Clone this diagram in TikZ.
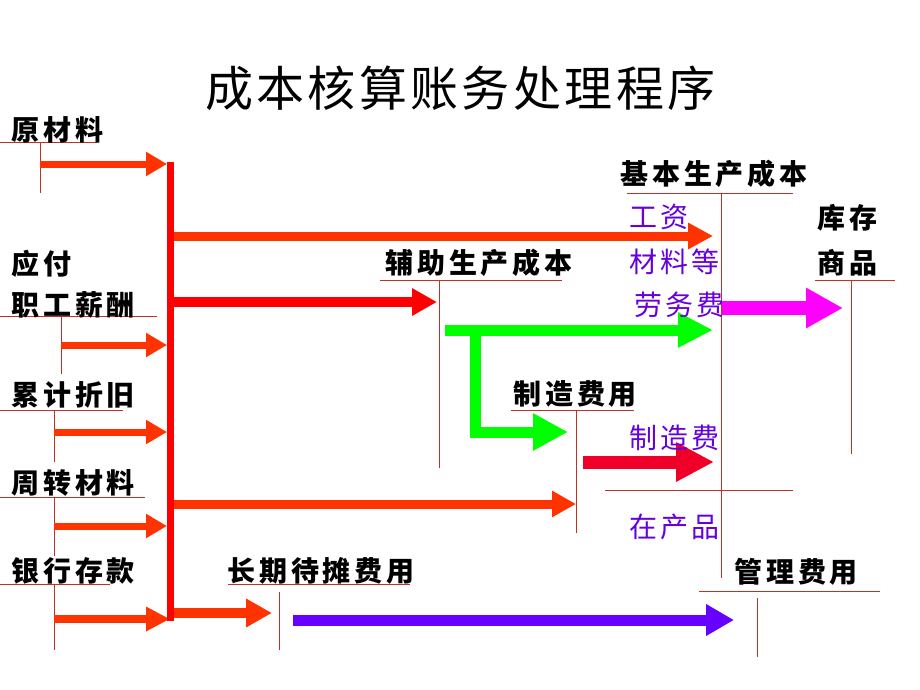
\documentclass[tikz,border=0pt]{standalone}
\usepackage{fontspec}
\usetikzlibrary{arrows.meta}
\newfontfamily\cjk[LetterSpace=14]{Noto Sans CJK SC}
\newfontfamily\cjkp[LetterSpace=12]{Noto Sans CJK SC}
\newfontfamily\cjktitle[LetterSpace=7]{Noto Sans CJK SC}
\definecolor{lineclr}{RGB}{192,48,36}
\definecolor{orangeA}{RGB}{255,51,0}
\definecolor{redA}{RGB}{255,0,0}
\definecolor{greenA}{RGB}{0,255,0}
\definecolor{magA}{RGB}{255,0,255}
\definecolor{purA}{RGB}{102,0,255}
\definecolor{purT}{RGB}{102,0,221}
\definecolor{redB}{RGB}{240,0,40}
\begin{document}
\begin{tikzpicture}[x=1pt,y=-1pt,
  lab/.style={anchor=west,inner sep=0pt,font=\cjk\bfseries\fontsize{28}{30}\selectfont,text=black},
  plab/.style={anchor=west,inner sep=0pt,font=\cjkp\fontsize{28}{30}\selectfont,text=purT},
  thinline/.style={draw=lineclr,line width=1pt},
  fat/.style args={#1/#2/#3/#4}{draw=#1,line width=#2pt,-{Triangle[width=#3pt,length=#4pt]}},
]
\useasboundingbox (0,0) rectangle (920,690);

% thin rules
\draw[thinline] (0,142) -- (97,142);
\draw[thinline] (40,142) -- (40,193);
\draw[thinline] (0,316) -- (157,316);
\draw[thinline] (61,316) -- (61,374);
\draw[thinline] (0,410) -- (123,410);
\draw[thinline] (54,410) -- (54,462);
\draw[thinline] (0,497) -- (145,497);
\draw[thinline] (54,497) -- (54,556);
\draw[thinline] (0,584) -- (110,584);
\draw[thinline] (54,584) -- (54,650);
\draw[thinline] (228,584) -- (410,584);
\draw[thinline] (279,592) -- (279,650);
\draw[thinline] (380,280) -- (562,280);
\draw[thinline] (439,280) -- (439,468);
\draw[thinline] (511,410) -- (634,410);
\draw[thinline] (576,410) -- (576,533);
\draw[thinline] (627,193) -- (793,193);
\draw[thinline] (721,193) -- (721,578);
\draw[thinline] (815,280) -- (895,280);
\draw[thinline] (851,280) -- (851,454);
\draw[thinline] (605,490) -- (793,490);
\draw[thinline] (699,591) -- (880,591);
\draw[thinline] (757,598) -- (757,657);

% coordinates
\coordinate (a1s) at (40,164);  \coordinate (a1e) at (167,164);
\coordinate (a2s) at (61,345);  \coordinate (a2e) at (167,345);
\coordinate (a3s) at (54,432);  \coordinate (a3e) at (167,432);
\coordinate (a4s) at (54,526);  \coordinate (a4e) at (167,526);
\coordinate (a5s) at (54,619);  \coordinate (a5e) at (170,619);
\coordinate (bart) at (170,162); \coordinate (barb) at (170,621);
\coordinate (b1s) at (174,236); \coordinate (b1e) at (713,236);
\coordinate (b2s) at (174,302); \coordinate (b2e) at (437,302);
\coordinate (b3s) at (174,504); \coordinate (b3e) at (576,504);
\coordinate (b4s) at (174,613); \coordinate (b4e) at (272,613);
\coordinate (g1s) at (445,330); \coordinate (g1e) at (713,330);
\coordinate (g2s) at (475,330); \coordinate (g2m) at (475,432); \coordinate (g2e) at (568,432);
\coordinate (ms) at (722,308);  \coordinate (me) at (843,308);
\coordinate (rs) at (583,462);  \coordinate (re) at (714,462);
\coordinate (ps) at (293,620);  \coordinate (pe) at (734,620);

% arrows
\draw[fat=orangeA/7/23/21] (a1s) -- (a1e);
\draw[fat=orangeA/7/23/21] (a2s) -- (a2e);
\draw[fat=orangeA/7/23/21] (a3s) -- (a3e);
\draw[fat=orangeA/7/23/21] (a4s) -- (a4e);
\draw[fat=orangeA/8/23/24] (a5s) -- (a5e);
\draw[draw=redA,line width=7pt] (bart) -- (barb);
\draw[fat=orangeA/9/25/25] (b1s) -- (b1e);
\draw[fat=redA/10/26/25] (b2s) -- (b2e);
\draw[fat=orangeA/9/25/24] (b3s) -- (b3e);
\draw[fat=orangeA/10/27/26] (b4s) -- (b4e);
\draw[fat=greenA/11/33/35] (g1s) -- (g1e);
\draw[fat=greenA/11/35/35] (g2s) -- (g2m) -- (g2e);
\draw[fat=magA/14/38/37] (ms) -- (me);
\draw[fat=redB/13/37/38] (rs) -- (re);
\draw[fat=purA/11/30/28] (ps) -- (pe);

% texts
\node[font=\cjktitle\fontsize{48}{52}\selectfont,inner sep=0pt,anchor=west] (title) at (205,88) {成本核算账务处理程序};
\node[lab] (ycl) at (11,130) {原材料};
\node[lab] (yf) at (11,264) {应付};
\node[lab] (zg) at (11,305) {职工薪酬};
\node[lab] (lj) at (11,395) {累计折旧};
\node[lab] (zz) at (11,483) {周转材料};
\node[lab] (yh) at (11,571) {银行存款};
\node[lab] (cq) at (227,571) {长期待摊费用};
\node[lab] (fz) at (385,263) {辅助生产成本};
\node[lab] (zzfy) at (513,394) {制造费用};
\node[lab] (jb) at (620,174) {基本生产成本};
\node[lab] (kc) at (817,218) {库存};
\node[lab] (sp) at (817,263) {商品};
\node[lab] (gl) at (734,572) {管理费用};
\node[plab] (gz) at (629,217) {工资};
\node[plab] (cl) at (629,262) {材料等};
\node[plab] (lw) at (634,305) {劳务费};
\node[plab] (zzf) at (629,438) {制造费};
\node[plab] (zcp) at (629,527) {在产品};
\end{tikzpicture}
\end{document}
